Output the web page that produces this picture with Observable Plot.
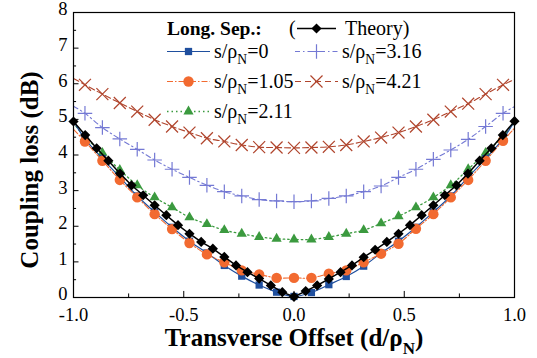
<!DOCTYPE html>
<html><head><meta charset="utf-8">
<script src="https://cdn.jsdelivr.net/npm/d3@7"></script>
<script src="https://cdn.jsdelivr.net/npm/@observablehq/plot@0.6"></script>
<style>
html,body{margin:0;padding:0;background:#fff;}
#chart{width:537px;height:358px;}
</style></head><body><div id="chart"></div>
<script>
// ---- data ----
const xExp = [-0.948,-0.869,-0.790,-0.711,-0.632,-0.553,-0.474,-0.395,-0.316,-0.237,-0.158,-0.079,0,
              0.079,0.158,0.237,0.316,0.395,0.474,0.553,0.632,0.711,0.790,0.869,0.948];
const yS0   = [4.45,3.90,3.38,2.85,2.40,1.97,1.58,1.25,0.90,0.60,0.35,0.15,0.03,
               0.14,0.36,0.59,0.88,1.25,1.58,1.97,2.40,2.85,3.38,3.90,4.45];
const yS105 = [4.38,3.84,3.30,2.81,2.34,1.92,1.53,1.21,0.99,0.76,0.65,0.55,0.55,
               0.55,0.67,0.76,0.99,1.23,1.51,1.93,2.34,2.81,3.30,3.84,4.40];
const yS211 = [4.50,4.06,3.58,3.15,2.81,2.53,2.25,2.06,1.89,1.79,1.70,1.65,1.63,
               1.63,1.70,1.79,1.89,2.08,2.28,2.53,2.81,3.15,3.60,4.06,4.52];
const yS316 = [5.17,4.77,4.45,4.16,3.86,3.60,3.37,3.15,2.97,2.85,2.75,2.71,2.69,
               2.71,2.78,2.85,2.97,3.13,3.37,3.60,3.88,4.14,4.44,4.80,5.17];
const yS421 = [5.97,5.71,5.46,5.22,4.99,4.80,4.63,4.47,4.38,4.28,4.22,4.21,4.20,
               4.21,4.23,4.28,4.38,4.49,4.63,4.80,4.99,5.22,5.44,5.71,5.97];
// fitted-line ends at x = -1 and x = 1
const edgeX = [-1, 1];
const edgeS0 = [4.95, 4.95], edgeS105 = [4.72, 4.75], edgeS211 = [4.90, 4.92],
      edgeS316 = [5.37, 5.36], edgeS421 = [6.15, 6.12];

const xTheory = [-1,-0.947,-0.895,-0.842,-0.789,-0.737,-0.684,-0.632,-0.579,-0.526,-0.474,-0.421,-0.368,-0.316,-0.263,-0.211,-0.158,-0.105,-0.053,0,
                 0.053,0.105,0.158,0.211,0.263,0.316,0.368,0.421,0.474,0.526,0.579,0.632,0.684,0.737,0.789,0.842,0.895,0.947,1];
const yTheory = [4.94,4.56,4.19,3.84,3.48,3.15,2.87,2.59,2.31,2.03,1.79,1.56,1.37,1.14,0.90,0.71,0.53,0.34,0.15,0.02,
                 0.18,0.34,0.52,0.71,0.90,1.13,1.34,1.56,1.79,2.03,2.31,2.59,2.87,3.15,3.48,3.84,4.19,4.56,4.95];

const xMajor = [-1,-0.5,0,0.5,1], xMinor = [-0.75,-0.25,0.25,0.75];
const yMajor = [0,1,2,3,4,5,6,7,8], yMinor = [0.5,1.5,2.5,3.5,4.5,5.5,6.5,7.5];

const seriesNames = ["0","1.05","2.11","3.16","4.21"];

// ---- styles ----
const C = {s0:"#1f4f9e", s105:"#f26a30", s211:"#3b9a3f", s316:"#7479d4", s421:"#b0442c"};

const pts = (xs, ys) => xs.map((x,i)=>({x, y: ys[i]}));
const withEdges = (ys, e) => [{x: edgeX[0], y: e[0]}, ...pts(xExp, ys), {x: edgeX[1], y: e[1]}];

const W = 537, H = 358, mL = 73, mR = 23, mT = 12, mB = 61;

const plot = Plot.plot({
  width: W, height: H,
  marginLeft: mL, marginRight: mR, marginTop: mT, marginBottom: mB,
  style: {fontFamily: "'Liberation Serif', serif", fontSize: "19px", color: "black", background: "white"},
  x: {domain: [-1, 1]},
  y: {domain: [0, 8]},
  marks: [
    Plot.axisX({ticks: xMajor, tickFormat: d => d.toFixed(1), tickSize: 0, tickPadding: 10.5, fontSize: 18.5, label: null}),
    Plot.axisY({ticks: yMajor, tickFormat: d => String(d), tickSize: 0, tickPadding: 6, dy: -3, fontSize: 18.5, label: null}),
    // inward tick marks
    Plot.ruleX(xMajor, {x: d => d, y1: 0, y2: 0.17, stroke: "black", strokeWidth: 1}),
    Plot.ruleX(xMinor, {x: d => d, y1: 0, y2: 0.1, stroke: "black", strokeWidth: 1}),
    Plot.ruleY(yMajor, {y: d => d, x1: -1, x2: -0.975, stroke: "black", strokeWidth: 1}),
    Plot.ruleY(yMinor, {y: d => d, x1: -1, x2: -0.986, stroke: "black", strokeWidth: 1}),
    // 4.21 red x dashed
    Plot.line(withEdges(yS421, edgeS421), {x: "x", y: "y", stroke: C.s421, strokeWidth: 1.1, strokeDasharray: "6,3", curve: "catmull-rom"}),
    Plot.dot(pts(xExp, yS421), {x: "x", y: "y", symbol: d3.symbolTimes, r: 5.5, stroke: C.s421, fill: "none", strokeWidth: 1.2}),
    // 3.16 blue + dash-dot
    Plot.line(withEdges(yS316, edgeS316), {x: "x", y: "y", stroke: C.s316, strokeWidth: 1.1, strokeDasharray: "5,3,1.5,3", curve: "catmull-rom"}),
    Plot.dot(pts(xExp, yS316), {x: "x", y: "y", symbol: d3.symbolPlus, r: 4.75, stroke: C.s316, fill: "none", strokeWidth: 1.2}),
    // 2.11 green triangles dotted
    Plot.line(withEdges(yS211, edgeS211), {x: "x", y: "y", stroke: C.s211, strokeWidth: 1.3, strokeDasharray: "1.5,3", curve: "catmull-rom"}),
    Plot.dot(pts(xExp, yS211), {x: "x", y: "y", symbol: d3.symbolTriangle, r: 3.8, fill: C.s211, stroke: "none"}),
    // 0 blue squares solid
    Plot.line(withEdges(yS0, edgeS0), {x: "x", y: "y", stroke: C.s0, strokeWidth: 1.2, curve: "catmull-rom"}),
    Plot.dot(pts(xExp, yS0), {x: "x", y: "y", symbol: d3.symbolSquare, r: 4.1, fill: C.s0, stroke: "none"}),
    // 1.05 orange circles dash-dot
    Plot.line(withEdges(yS105, edgeS105), {x: "x", y: "y", stroke: C.s105, strokeWidth: 1.1, strokeDasharray: "6,2,1.5,2", curve: "catmull-rom"}),
    Plot.dot(pts(xExp, yS105), {x: "x", y: "y", symbol: "circle", r: 5.2, fill: C.s105, stroke: "none"}),
    // theory
    Plot.line(pts(xTheory, yTheory), {x: "x", y: "y", stroke: "black", strokeWidth: 1.5}),
    Plot.dot(pts(xTheory, yTheory), {x: "x", y: "y", symbol: d3.symbolDiamond2, r: 4.6, fill: "black", stroke: "none"}),
    Plot.frame({stroke: "black", strokeWidth: 1.2})
  ]
});
document.getElementById("chart").appendChild(plot);

// ---- titles and legend ----
const svg = d3.select(plot);
const FONT = "'Liberation Serif', serif";

function subText(g, x, y, parts, size, weight, anchor) {
  const t = g.append("text").attr("x", x).attr("y", y)
    .attr("font-family", FONT).attr("font-size", size).attr("font-weight", weight || "normal")
    .attr("fill", "black").attr("text-anchor", anchor || "start");
  t.append("tspan").text(parts[0]);
  t.append("tspan").attr("font-size", size * 0.68).attr("dy", size * 0.33).text(parts[1]);
  t.append("tspan").attr("dy", -size * 0.33).text(parts[2]);
  return t;
}
function plainText(g, x, y, s, size, weight) {
  return g.append("text").attr("x", x).attr("y", y).attr("text-anchor", "start")
    .attr("font-family", FONT).attr("font-size", size).attr("font-weight", weight || "normal")
    .attr("fill", "black").text(s);
}

// x title
subText(svg, 294, 346, ["Transverse Offset (d/\u03C1", "N", ")"], 25, "bold", "middle");
// y title
svg.append("text").attr("transform", "translate(38,170) rotate(-90)")
  .attr("text-anchor", "middle").attr("font-family", FONT).attr("font-size", 25)
  .attr("font-weight", "bold").attr("fill", "black").text("Coupling loss (dB)");

// legend
const lg = svg.append("g");
plainText(lg, 167, 35, "Long. Sep.:", 19.5, "bold");
plainText(lg, 289, 35, "(", 20);
lg.append("line").attr("x1", 297).attr("x2", 336).attr("y1", 28.5).attr("y2", 28.5).attr("stroke", "black").attr("stroke-width", 1.5);
lg.append("path").attr("d", d3.symbol(d3.symbolDiamond2, 66)()).attr("transform", "translate(316.5,28.5)").attr("fill", "black");
plainText(lg, 345, 35, "Theory)", 20);

const legendItems = [
  {name: seriesNames[0], color: C.s0, dash: null, sym: d3.symbolSquare, size: 53, fill: true, col: 0, row: 0},
  {name: seriesNames[3], color: C.s316, dash: "5,3,1.5,3", sym: d3.symbolPlus, size: 71, fill: false, col: 1, row: 0},
  {name: seriesNames[1], color: C.s105, dash: "6,2,1.5,2", sym: d3.symbolCircle, size: 85, fill: true, col: 0, row: 1},
  {name: seriesNames[4], color: C.s421, dash: "6,4", sym: d3.symbolTimes, size: 96, fill: false, col: 1, row: 1},
  {name: seriesNames[2], color: C.s211, dash: "1.5,3", sym: d3.symbolTriangle, size: 45, fill: true, col: 0, row: 2}
];
legendItems.forEach(it => {
  const x0 = it.col === 0 ? 167 : 295;
  const y = 51.5 + it.row * 30;
  lg.append("line").attr("x1", x0).attr("x2", x0 + 43).attr("y1", y).attr("y2", y)
    .attr("stroke", it.color).attr("stroke-width", it.dash === "1.5,3" ? 1.3 : 1.1)
    .attr("stroke-dasharray", it.dash);
  lg.append("path").attr("d", d3.symbol(it.sym, it.size)())
    .attr("transform", `translate(${x0 + 21.5},${y})`)
    .attr("fill", it.fill ? it.color : "none").attr("stroke", it.fill ? "none" : it.color).attr("stroke-width", 1.2);
  subText(lg, x0 + 47, y + 6, ["s/\u03C1", "N", "=" + it.name], 20, "normal", "start");
});
</script>
</body></html>
